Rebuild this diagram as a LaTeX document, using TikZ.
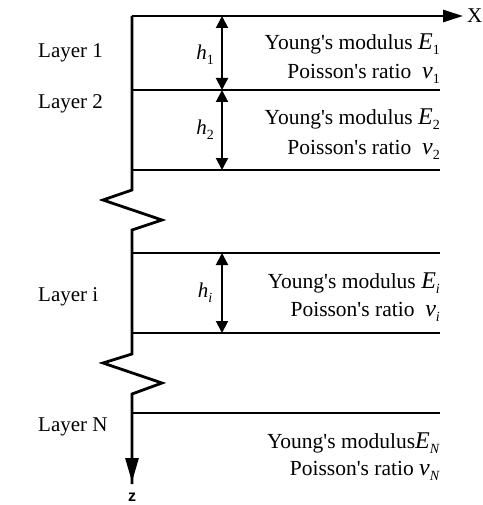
\documentclass[tikz,border=0pt]{standalone}
\usepackage{fontspec}
\usetikzlibrary{arrows.meta}
\newfontfamily\tf{Liberation Serif}
\newfontfamily\sfz{Liberation Sans}
\newcommand\lsub[1]{\raisebox{-0.55ex}{\fontsize{14}{14}\selectfont #1}}
\newcommand\bigsym[1]{{\fontsize{24}{24}\selectfont\itshape #1}}
\begin{document}
\begin{tikzpicture}[x=1pt,y=-1pt,
  ln/.style={line width=2.8pt},
  dim/.style={line width=2pt,{Triangle[length=12pt,width=12pt]}-{Triangle[length=12pt,width=12pt]}},
  txt/.style={font=\tf\fontsize{21.5}{24}\selectfont,inner sep=0pt,anchor=east},
  lay/.style={font=\tf\fontsize{21}{24}\selectfont,inner sep=0pt,anchor=west},
  hl/.style={font=\tf\itshape\fontsize{21}{24}\selectfont,inner sep=0pt}]
\useasboundingbox (0,0) rectangle (482,505);
% axis points
\coordinate (o) at (132,16);
\coordinate (xe) at (463,16);
\coordinate (a1) at (132,190);
\coordinate (a2) at (103,200);
\coordinate (a3) at (162,220);
\coordinate (a4) at (132,230);
\coordinate (b1) at (132,354);
\coordinate (b2) at (103,363);
\coordinate (b3) at (162,383);
\coordinate (b4) at (132,394);
\coordinate (ze) at (132,482);
% layer lines
\coordinate (l1s) at (132,90);  \coordinate (l1e) at (440,90);
\coordinate (l2s) at (132,170); \coordinate (l2e) at (440,170);
\coordinate (l3s) at (132,253); \coordinate (l3e) at (440,253);
\coordinate (l4s) at (132,333); \coordinate (l4e) at (440,333);
\coordinate (l5s) at (132,413); \coordinate (l5e) at (440,413);
\draw[ln,-{Triangle[length=20pt,width=12pt]}] (o) -- (xe);
\draw[ln,line join=miter] (o) -- (a1) -- (a2) -- (a3) -- (a4) -- (b1) -- (b2) -- (b3) -- (b4) -- ([yshift=-2pt]ze);
\draw[ln,-{Triangle[length=24pt,width=13pt]}] (b4) -- (ze);
\draw[ln] (l1s) -- (l1e);
\draw[ln] (l2s) -- (l2e);
\draw[ln] (l3s) -- (l3e);
\draw[ln] (l4s) -- (l4e);
\draw[ln] (l5s) -- (l5e);
\node[font=\tf\fontsize{21}{24}\selectfont,anchor=west,inner sep=0pt] (X) at (467,16) {X};
\node[font=\sfz\bfseries\fontsize{16}{16}\selectfont,inner sep=0pt] (Z) at (132,497) {z};
% dimension arrows
\coordinate (d0) at (222,16);
\coordinate (d1) at (222,90);
\coordinate (d2) at (222,170);
\coordinate (d3) at (222,253);
\coordinate (d4) at (222,333);
\draw[dim] (d0) -- (d1);
\draw[dim] (d1) -- (d2);
\draw[dim] (d3) -- (d4);
\node[hl] (h1) at (205,55) {h\lsub{\upshape 1}};
\node[hl] (h2) at (205,130) {h\lsub{\upshape 2}};
\node[hl] (hi) at (205,293) {h\lsub{i}};
% layer names
\node[lay] (L1) at (38,53) {Layer 1};
\node[lay] (L2) at (38,104) {Layer 2};
\node[lay] (Li) at (38,297) {Layer i};
\node[lay] (LN) at (38,427) {Layer N};
% properties
\node[txt] (E1) at (440,44) {Young's modulus \bigsym{E}\lsub{1}};
\node[txt] (n1) at (440,74) {Poisson's ratio \ \bigsym{ν}\lsub{1}};
\node[txt] (E2) at (440,119) {Young's modulus \bigsym{E}\lsub{2}};
\node[txt] (n2) at (440,150) {Poisson's ratio \ \bigsym{ν}\lsub{2}};
\node[txt] (Ei) at (440,283) {Young's modulus \bigsym{E}\lsub{\textit{i}}};
\node[txt] (ni) at (440,312) {Poisson's ratio \ \bigsym{ν}\lsub{\textit{i}}};
\node[txt] (EN) at (440,443) {Young's modulus\bigsym{E}\lsub{\textit{N}}};
\node[txt] (nN) at (440,471) {Poisson's ratio \bigsym{ν}\lsub{\textit{N}}};
\end{tikzpicture}
\end{document}
